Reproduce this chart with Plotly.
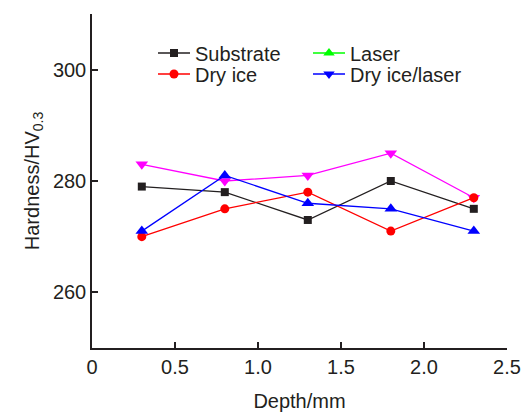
import plotly.graph_objects as go

depth = [0.3, 0.8, 1.3, 1.8, 2.3]
substrate = [279, 278, 273, 280, 275]
dry_ice = [270, 275, 278, 271, 277]
blue_series = [271, 281, 276, 275, 271]
magenta_series = [283, 280, 281, 285, 277]

x_ticks = [0, 0.5, 1.0, 1.5, 2.0, 2.5]
x_tick_labels = ["0", "0.5", "1.0", "1.5", "2.0", "2.5"]
y_ticks = [260, 280, 300]

FONT = "Arial, Liberation Sans, sans-serif"
INK = "#231f20"
FS = 20

fig = go.Figure()

# data lines drawn on the chart
fig.add_trace(go.Scatter(x=depth, y=magenta_series, mode="lines+markers", showlegend=False,
                         line=dict(color="#ff00ff", width=1.3),
                         marker=dict(symbol="triangle-down", size=11, color="#ff00ff")))
fig.add_trace(go.Scatter(x=depth, y=substrate, mode="lines+markers", name="Substrate",
                         legend="legend", legendrank=1,
                         line=dict(color=INK, width=1.3),
                         marker=dict(symbol="square", size=8, color=INK)))
fig.add_trace(go.Scatter(x=depth, y=dry_ice, mode="lines+markers", name="Dry ice",
                         legend="legend2", legendrank=1,
                         line=dict(color="#ff0000", width=1.3),
                         marker=dict(symbol="circle", size=9, color="#ff0000")))
fig.add_trace(go.Scatter(x=depth, y=blue_series, mode="lines+markers", showlegend=False,
                         line=dict(color="#0000ff", width=1.3),
                         marker=dict(symbol="triangle-up", size=11, color="#0000ff")))

# legend-only entries as in the original figure
fig.add_trace(go.Scatter(x=[None], y=[None], mode="lines+markers", name="Laser",
                         legend="legend", legendrank=2,
                         line=dict(color="#00ff00", width=1.3),
                         marker=dict(symbol="triangle-up", size=10, color="#00ff00")))
fig.add_trace(go.Scatter(x=[None], y=[None], mode="lines+markers", name="Dry ice/laser",
                         legend="legend2", legendrank=2,
                         line=dict(color="#0000ff", width=1.3),
                         marker=dict(symbol="triangle-down", size=10, color="#0000ff")))

leg_common = dict(orientation="h", xref="container", yref="container",
                  xanchor="left", yanchor="middle",
                  entrywidth=108, entrywidthmode="pixels",
                  font=dict(size=FS, color=INK), bgcolor="rgba(0,0,0,0)",
                  itemwidth=32, borderwidth=0)

fig.update_layout(
    width=521, height=412,
    margin=dict(l=92, r=14, t=14, b=64, autoexpand=False),
    paper_bgcolor="white", plot_bgcolor="white",
    font=dict(family=FONT, size=FS, color=INK),
    legend=dict(x=153 / 521, y=1 - 53 / 412, **leg_common),
    legend2=dict(x=153 / 521, y=1 - 74 / 412, **leg_common),
    xaxis=dict(range=[0, 2.5], tickvals=x_ticks, ticktext=x_tick_labels, automargin=False,
               showgrid=False, zeroline=False, showline=True, linecolor=INK, linewidth=1.5,
               ticks="inside", ticklen=6, tickcolor=INK, tickwidth=1.5,
               tickfont=dict(size=FS, color=INK),
               title=dict(text="Depth/mm", font=dict(size=FS, color=INK), standoff=24)),
    yaxis=dict(range=[250, 310], tickvals=y_ticks, automargin=False,
               showgrid=False, zeroline=False, showline=True, linecolor=INK, linewidth=1.5,
               ticks="inside", ticklen=6, tickcolor=INK, tickwidth=1.5,
               tickfont=dict(size=FS, color=INK),
               title=dict(text="Hardness/HV<sub>0.3</sub>", font=dict(size=FS, color=INK), standoff=8)),
)

fig.write_html("out.html", config={"displayModeBar": False},
               post_script="document.body.style.margin='0';")
